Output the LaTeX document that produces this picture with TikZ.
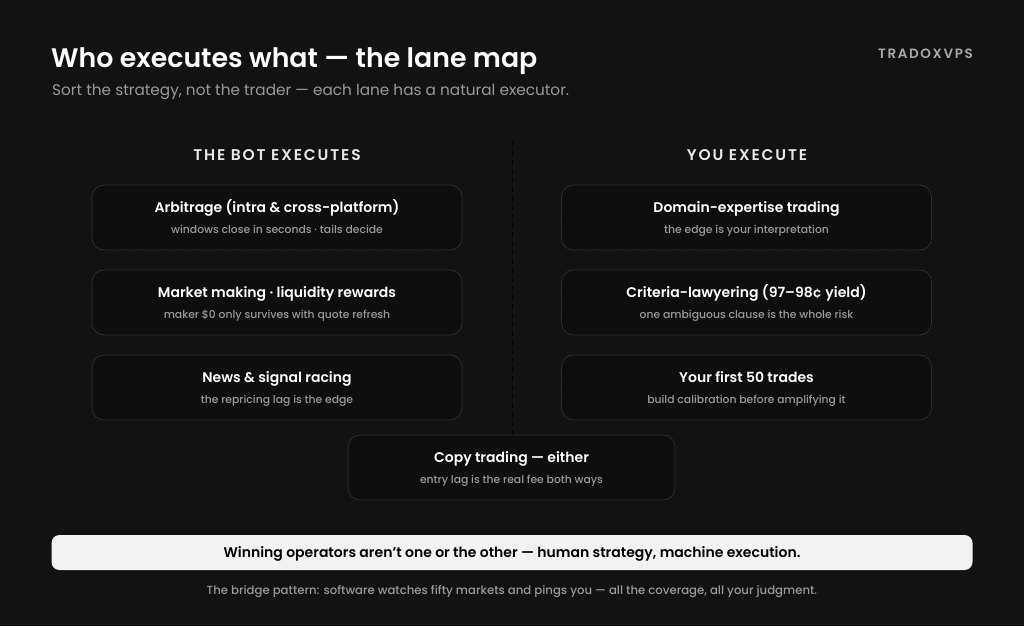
\documentclass[tikz,border=0pt]{standalone}
\usepackage{fontspec}
\setmainfont{Poppins}
\newfontfamily\semib{Poppins SemiBold}
\newfontfamily\medium{Poppins Medium}
\newfontfamily\spaced[LetterSpace=12]{Poppins SemiBold}
\definecolor{bg}{HTML}{121212}
\definecolor{dotc}{HTML}{1C1C1C}
\definecolor{boxfill}{HTML}{0E0E0E}
\definecolor{boxline}{HTML}{2E2E2E}
\definecolor{subgray}{HTML}{9A9A9A}
\definecolor{headc}{HTML}{E8E8E8}
\definecolor{banner}{HTML}{F2F2F2}
\begin{document}
\begin{tikzpicture}[x=1pt,y=-1pt,
  lane/.style={draw=boxline, line width=0.8pt, fill=boxfill, rounded corners=12pt, minimum width=370pt, minimum height=65pt, inner sep=0pt},
  ttl/.style={text=white, font=\semib\fontsize{14}{16}\selectfont},
  sub/.style={text=subgray, font=\medium\fontsize{10.8}{12}\selectfont},
  colhead/.style={text=headc, font=\spaced\fontsize{15.5}{17}\selectfont}]
\useasboundingbox (0,0) rectangle (1024,626);
\fill[bg] (0,0) rectangle (1024,626);
\foreach \i in {0,...,53} {\foreach \j in {0,...,32} {\fill[dotc] (\i*19+9,\j*19+9) circle (0.7pt);}}
% header
\node[anchor=base west, inner sep=0pt, text=white, font=\semib\fontsize{26.8}{30}\selectfont] (title) at (51,67) {Who executes what — the lane map};
\node[anchor=base west, inner sep=0pt, text=subgray, font=\fontsize{15.3}{18}\selectfont] (subtitle) at (52,95) {Sort the strategy, not the trader — each lane has a natural executor.};
\node[anchor=base east, inner sep=0pt, text=subgray!85, font=\spaced\fontsize{13.5}{14}\selectfont] (brand) at (973,59) {TRADOXVPS};
% column heads
\node[colhead, inner sep=0pt, anchor=base] (hbot) at (277,160.5) {THE BOT EXECUTES};
\node[colhead, inner sep=0pt, anchor=base] (hyou) at (747,160.5) {YOU EXECUTE};
\coordinate (dtop) at (512,142);
\coordinate (dbot) at (512,436);
\draw[draw=boxline!130, line width=1pt, dash pattern=on 5pt off 4pt] (dtop) -- (dbot);
% boxes
\newcommand{\lanebox}[5]{%
  \node[lane] (#1) at (#2,#3) {};
  \node[ttl, anchor=base, inner sep=0pt] (#1t) at ([yshift=5pt]#1.center) {#4};
  \node[sub, anchor=base, inner sep=0pt] (#1s) at ([yshift=-15.5pt]#1.center) {#5};}
\lanebox{a}{277}{217.5}{Arbitrage (intra \& cross-platform)}{windows close in seconds · tails decide}
\lanebox{b}{277}{302.5}{Market making · liquidity rewards}{maker \$0 only survives with quote refresh}
\lanebox{c}{277}{387.5}{News \& signal racing}{the repricing lag is the edge}
\lanebox{d}{746.5}{217.5}{Domain-expertise trading}{the edge is your interpretation}
\lanebox{e}{746.5}{302.5}{Criteria-lawyering (97–98¢ yield)}{one ambiguous clause is the whole risk}
\lanebox{f}{746.5}{387.5}{Your first 50 trades}{build calibration before amplifying it}
\node[lane, minimum width=327pt] (g) at (511.5,467.5) {};
\node[ttl, anchor=base, inner sep=0pt] (gt) at ([yshift=5pt]g.center) {Copy trading — either};
\node[sub, anchor=base, inner sep=0pt] (gs) at ([yshift=-15.5pt]g.center) {entry lag is the real fee both ways};
% banner
\node[fill=banner, rounded corners=8pt, minimum width=921pt, minimum height=35pt, inner sep=0pt] (ban) at (512,552.5) {};
\node[anchor=base, inner sep=0pt, text=black, font=\semib\fontsize{14}{16}\selectfont] (bant) at ([yshift=-5pt]ban.center) {Winning operators aren’t one or the other — human strategy, machine execution.};
\node[anchor=base, inner sep=0pt, text=subgray, font=\medium\fontsize{11.7}{13}\selectfont] (foot) at (512,594.5) {The bridge pattern: software watches fifty markets and pings you — all the coverage, all your judgment.};
\end{tikzpicture}
\end{document}
